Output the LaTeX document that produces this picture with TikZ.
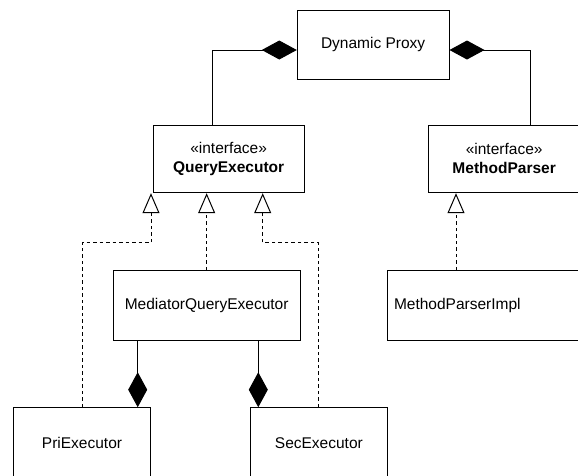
\documentclass[tikz,border=0pt]{standalone}
\usepackage{fontspec}
\setmainfont{Liberation Sans}
\usetikzlibrary{arrows.meta}
\tikzset{
  box/.style={draw, line width=1pt, rectangle, inner sep=0pt, align=center,
    font=\fontsize{15.5}{19}\selectfont},
  compo/.style={draw, line width=1pt,
    -{Diamond[length=35pt, width=19pt, fill=black, line width=1pt]}},
  real/.style={draw, line width=1pt, dash pattern=on 3.5pt off 3pt,
    -{Triangle[open, length=20pt, width=17pt, fill=white, line width=1pt]}},
}
\begin{document}
\begin{tikzpicture}[x=1pt, y=-1pt]
  \useasboundingbox (0,0) rectangle (578,475);
  \clip (0,0) rectangle (578,475);

  % classes
  \node[box, minimum width=151.7pt, minimum height=69pt] (dp) at (373.15,44.5) {Dynamic Proxy};
  \node[box, minimum width=150.7pt, minimum height=67.7pt] (qe) at (228.65,158.85)
    {«interface»\\\textbf{QueryExecutor}};
  \node[box, minimum width=151.7pt, minimum height=67.7pt] (mp) at (504.15,158.85)
    {«interface»\\\textbf{MethodParser}};
  \node[box, minimum width=186.7pt, minimum height=69.3pt] (med) at (206.65,305.35)
    {MediatorQueryExecutor};
  \node[box, minimum width=202.7pt, minimum height=69.3pt, text width=189.3pt,
    align=left] (mpi) at (488.65,305.35) {MethodParserImpl};
  \node[box, minimum width=137.4pt, minimum height=70pt] (pri) at (82,442.7) {PriExecutor};
  \node[box, minimum width=137.7pt, minimum height=70pt] (sec) at (318.85,442.7) {SecExecutor};

  % composition links into Dynamic Proxy
  \coordinate (t1) at (212.7,50);
  \coordinate (t2) at (530,50);
  \draw[compo] (t1 |- qe.north) |- (t1 -| dp.west);
  \draw[compo] (t2 |- mp.north) |- (t2 -| dp.east);

  % composition links from MediatorQueryExecutor
  \coordinate (d1) at (137.7,0);
  \coordinate (d2) at (258.3,0);
  \draw[compo] (d1 |- med.south) -- (d1 |- pri.north);
  \draw[compo] (d2 |- med.south) -- (d2 |- sec.north);

  % realizations
  \coordinate (k1) at (151,242.7);
  \coordinate (k3) at (262.7,242.7);
  \coordinate (m4) at (456,0);
  \draw[real] (pri.north) |- (k1) -- (k1 |- qe.south);
  \draw[real] (med.north) -- (med.north |- qe.south);
  \draw[real] (sec.north) |- (k3) -- (k3 |- qe.south);
  \draw[real] (m4 |- mpi.north) -- (m4 |- mp.south);
\end{tikzpicture}
\end{document}
